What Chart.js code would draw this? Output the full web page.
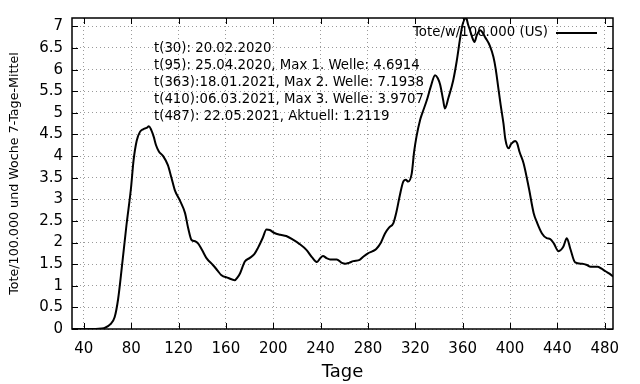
<!DOCTYPE html>
<html><head><meta charset="utf-8">
<script src="https://cdn.jsdelivr.net/npm/chart.js@4/dist/chart.umd.min.js"></script>
<style>html,body{margin:0;padding:0;background:#fff;}#wrap{width:640px;height:384px;}</style>
</head><body><div id="wrap"><canvas id="c" width="640" height="384"></canvas></div>
<script>
const days = [30,40,50,55,58,62,66,69,72,76,79.8,82,84.6,87.4,90,93,95,97,99,101,103.5,107,111,114,117,121,125.5,128,131,134,136.5,140,143.6,149,153,156,162,167.5,170,172,176,180,184,187,191,194.3,197,201,206,211,217,222,228,233,237,239.5,242,245,248,253.6,258,261,264,267.6,273,276,280,284,287,291,294.4,298,301.5,304,307,310,312,314,317,319,321,324,326,329.7,333,336.7,339,341,343.5,345,348,352,355,358,360,363,364.5,366.4,368,370,372,374.9,377,379,383,386,388,390,392,394.5,396,398.8,401,404.4,406,408,411.5,416,420,423,427,431,434,437,441,445,448,451,455,461,465,468,474,477,481,484,487];
const deaths = [0,0,0,0.01,0.03,0.1,0.27,0.7,1.4,2.4,3.25,3.9,4.35,4.56,4.62,4.65,4.69,4.6,4.45,4.25,4.1,4.0,3.79,3.5,3.2,2.98,2.68,2.35,2.06,2.03,1.98,1.82,1.64,1.48,1.35,1.25,1.18,1.13,1.2,1.29,1.56,1.64,1.73,1.87,2.1,2.3,2.29,2.22,2.18,2.15,2.06,1.97,1.83,1.65,1.55,1.63,1.69,1.64,1.61,1.61,1.53,1.51,1.53,1.57,1.6,1.67,1.75,1.8,1.85,2.0,2.21,2.35,2.45,2.7,3.1,3.42,3.45,3.41,3.6,4.1,4.45,4.83,5.0,5.29,5.6,5.87,5.8,5.65,5.3,5.1,5.35,5.75,6.2,6.75,7.05,7.1938,7.05,6.9,6.75,6.64,6.8,6.91,6.85,6.75,6.55,6.29,6.0,5.6,5.2,4.75,4.4,4.18,4.28,4.35,4.3,4.1,3.83,3.25,2.68,2.45,2.21,2.1,2.08,1.98,1.8,1.9,2.1,1.85,1.54,1.51,1.48,1.44,1.44,1.4,1.33,1.28,1.2119];
const xTicks = [40,80,120,160,200,240,280,320,360,400,440,480];
const yTicks = [0,0.5,1,1.5,2,2.5,3,3.5,4,4.5,5,5.5,6,6.5,7];
const seriesLabel = 'Tote/w/100.000 (US)';
const notes = ['t(30): 20.02.2020','t(95): 25.04.2020, Max 1. Welle: 4.6914','t(363):18.01.2021, Max 2. Welle: 7.1938','t(410):06.03.2021, Max 3. Welle: 3.9707','t(487): 22.05.2021, Aktuell: 1.2119'];
const xTitle = 'Tage';
const yTitle = 'Tote/100.000 und Woche 7-Tage-Mittel';

const FONT = 'DejaVu Sans';

const framePlugin = {
  id: 'frame',
  beforeDatasetsDraw(chart) {
    const {ctx} = chart;
    ctx.save();
    ctx.font = '13.3px "' + FONT + '"';
    ctx.fillStyle = '#000';
    ctx.textBaseline = 'middle';
    ctx.textAlign = 'left';
    notes.forEach((t, i) => ctx.fillText(t, 154, 49 + i * 17));
    ctx.textAlign = 'right';
    ctx.fillText(seriesLabel, 548, 33);
    ctx.strokeStyle = '#000';
    ctx.lineWidth = 2;
    ctx.beginPath(); ctx.moveTo(556, 33); ctx.lineTo(597, 33); ctx.stroke();
    ctx.restore();
  },
  afterDraw(chart) {
    const {ctx, chartArea: a, scales} = chart;
    ctx.save();
    ctx.strokeStyle = '#000';
    ctx.lineWidth = 1.5;
    ctx.strokeRect(a.left, a.top, a.right - a.left, a.bottom - a.top);
    ctx.lineWidth = 1;
    const L = 6;
    ctx.beginPath();
    xTicks.forEach(v => {
      const x = Math.round(scales.x.getPixelForValue(v)) + 0.5;
      ctx.moveTo(x, a.bottom); ctx.lineTo(x, a.bottom - L);
      ctx.moveTo(x, a.top); ctx.lineTo(x, a.top + L);
    });
    yTicks.forEach(v => {
      const y = Math.round(scales.y.getPixelForValue(v)) + 0.5;
      ctx.moveTo(a.left, y); ctx.lineTo(a.left + L, y);
      ctx.moveTo(a.right, y); ctx.lineTo(a.right - L, y);
    });
    ctx.stroke();
    ctx.restore();
  }
};

new Chart(document.getElementById('c'), {
  type: 'line',
  data: {
    datasets: [{
      label: seriesLabel,
      data: days.map((d, i) => ({x: d, y: deaths[i]})),
      borderColor: '#000',
      borderWidth: 2,
      pointRadius: 0,
      cubicInterpolationMode: 'monotone',
      fill: false
    }]
  },
  options: {
    responsive: false,
    animation: false,
    devicePixelRatio: 1,
    layout: {padding: {left: 0, top: 17, right: 27, bottom: 0}},
    plugins: {legend: {display: false}, tooltip: {enabled: false}},
    scales: {
      x: {
        type: 'linear', min: 30, max: 487,
        afterBuildTicks: s => { s.ticks = xTicks.map(v => ({value: v})); },
        afterFit: s => { s.height = 55; },
        grid: {color: '#9a9a9a', lineWidth: 1, drawTicks: false},
        border: {display: false, dash: [1, 3]},
        ticks: {color: '#000', font: {family: FONT, size: 15}, padding: 11, maxRotation: 0, autoSkip: false, callback: v => String(v)},
        title: {display: true, text: xTitle, color: '#000', font: {family: FONT, size: 18}, padding: {top: 0, bottom: 1}}
      },
      y: {
        type: 'linear', min: 0, max: 7.1938,
        afterBuildTicks: s => { s.ticks = yTicks.map(v => ({value: v})); },
        afterFit: s => { s.width = 72; },
        grid: {color: '#9a9a9a', lineWidth: 1, drawTicks: false},
        border: {display: false, dash: [1, 3]},
        ticks: {color: '#000', font: {family: FONT, size: 15}, padding: 9, autoSkip: false, callback: v => String(v)},
        title: {display: true, text: yTitle, color: '#000', font: {family: FONT, size: 12.7}, padding: {top: 7, bottom: 0}}
      }
    }
  },
  plugins: [framePlugin]
});
</script></body></html>
